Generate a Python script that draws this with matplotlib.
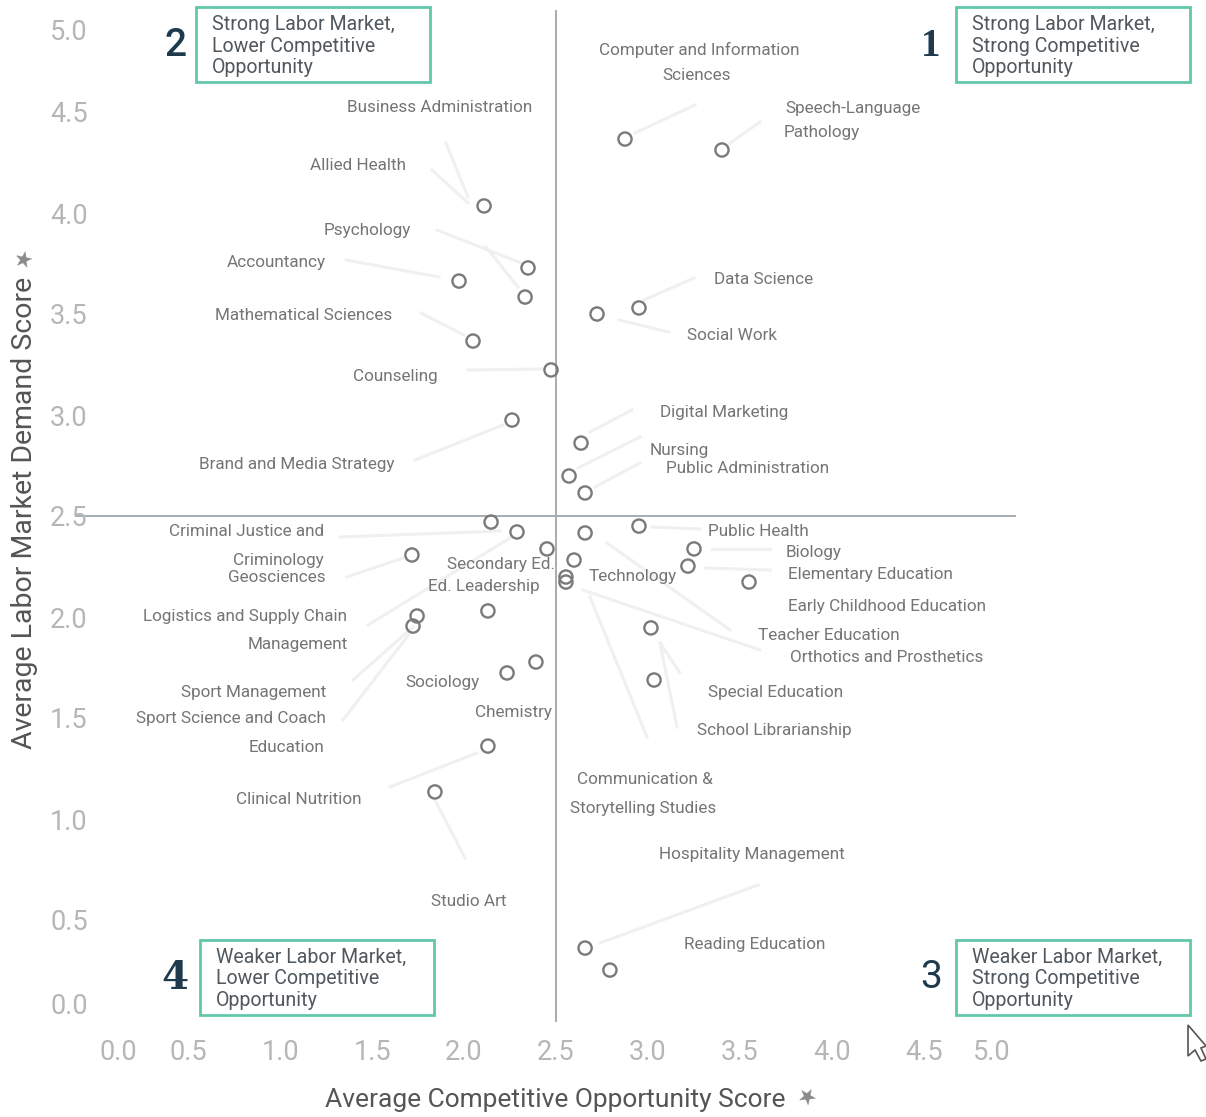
import matplotlib
matplotlib.use("Agg")
import matplotlib.pyplot as plt
from matplotlib.lines import Line2D
from matplotlib.patches import Polygon, Rectangle
from matplotlib.transforms import ScaledTranslation

W, H = 1206, 1117

# data
POINT_X = [2.875, 3.402, 2.109, 2.348, 1.973, 2.332, 2.723, 2.951, 2.049, 2.473,
           2.261, 2.636, 2.571, 2.658, 2.147, 2.288, 2.658, 2.951, 2.451, 2.598,
           1.717, 3.250, 3.217, 3.549, 2.554, 2.554, 1.745, 1.723, 2.130, 3.016,
           3.033, 2.391, 2.234, 2.130, 1.842, 2.658, 2.793]
POINT_Y = [4.366, 4.312, 4.035, 3.728, 3.663, 3.584, 3.500, 3.530, 3.366, 3.223,
           2.975, 2.861, 2.698, 2.614, 2.470, 2.421, 2.416, 2.450, 2.337, 2.282,
           2.307, 2.337, 2.252, 2.173, 2.198, 2.173, 2.005, 1.955, 2.030, 1.946,
           1.688, 1.777, 1.723, 1.361, 1.134, 0.361, 0.252]
TICKS = [0.0, 0.5, 1.0, 1.5, 2.0, 2.5, 3.0, 3.5, 4.0, 4.5, 5.0]
TICK_LABELS = ["0.0", "0.5", "1.0", "1.5", "2.0", "2.5", "3.0", "3.5", "4.0", "4.5", "5.0"]

# text lines of the point labels and where they sit (pixels)
LABEL_TEXT = ["Computer and Information", "Sciences", "Speech-Language", "Pathology",
              "Business Administration", "Allied Health", "Psychology", "Accountancy",
              "Mathematical Sciences", "Counseling", "Data Science", "Social Work",
              "Digital Marketing", "Nursing", "Public Administration",
              "Brand and Media Strategy", "Criminal Justice and", "Criminology",
              "Geosciences", "Secondary Ed.", "Ed. Leadership", "Technology",
              "Public Health", "Biology", "Elementary Education",
              "Early Childhood Education", "Teacher Education",
              "Orthotics and Prosthetics", "Logistics and Supply Chain", "Management",
              "Sport Management", "Sport Science and Coach", "Education", "Sociology",
              "Chemistry", "Special Education", "School Librarianship",
              "Communication &", "Storytelling Studies", "Clinical Nutrition",
              "Hospitality Management", "Studio Art", "Reading Education"]
LABEL_PX = [(699, 50), (697, 75), (853, 108), (822, 133), (440, 108), (358, 166),
            (367, 230), (276, 262), (304, 315), (395, 377), (764, 280), (732, 335),
            (724, 413), (679, 450), (748, 468), (297, 465), (247, 532), (278, 561),
            (277, 578), (501, 564), (484, 587), (633, 576), (758, 532), (814, 552),
            (870, 575), (887, 607), (829, 636), (887, 657), (245, 616), (298, 645),
            (254, 693), (231, 719), (287, 747), (442, 682), (514, 712), (776, 692),
            (774, 731), (645, 779), (643, 808), (299, 799), (752, 854), (469, 902),
            (755, 944)]

# faint leader lines between points and labels (pixels)
LEADERS = [(635, 133, 695, 105), (730, 143, 760, 122), (446, 143, 468, 197),
           (432, 170, 468, 203), (437, 230, 521, 263), (346, 260, 439, 277),
           (421, 313, 464, 335), (468, 370, 543, 369), (486, 247, 518, 287),
           (644, 300, 694, 278), (619, 320, 669, 332), (590, 432, 632, 410),
           (578, 468, 640, 437), (595, 487, 640, 463), (415, 460, 503, 425),
           (340, 537, 500, 531), (347, 577, 403, 558), (368, 625, 510, 538),
           (353, 680, 413, 627), (343, 720, 410, 633), (390, 787, 477, 753),
           (435, 800, 465, 858), (600, 943, 758, 885), (652, 527, 700, 529),
           (712, 549, 770, 549), (705, 568, 770, 570), (607, 543, 730, 630),
           (583, 590, 760, 650), (660, 643, 680, 673), (660, 643, 677, 727),
           (590, 597, 647, 737)]

QUADRANT_TEXT = ["Strong Labor Market,\nStrong Competitive\nOpportunity",
                 "Strong Labor Market,\nLower Competitive\nOpportunity",
                 "Weaker Labor Market,\nStrong Competitive\nOpportunity",
                 "Weaker Labor Market,\nLower Competitive\nOpportunity"]
QUADRANT_NUM = ["1", "2", "3", "4"]
QUADRANT_BOX = [(956, 7), (196, 7), (956, 940), (200, 940)]
NUM_PX = [(931, 46), (175, 46), (931, 978), (175, 978)]
NUM_FONT = ["Liberation Serif", "Roboto", "Roboto", "DejaVu Serif"]
NUM_WEIGHT = ["bold", "medium", "normal", "bold"]

GREY_TEXT = "#757575"
TICK_GREY = "#b6b6b6"
TITLE_GREY = "#555555"
TEAL = "#62c6ab"
NAVY = "#1f3a4d"


def fx(px):
    return px / W


def fy(py):
    return 1 - py / H


def drawChart():
    plt.rcParams["font.family"] = ["Roboto", "DejaVu Sans"]
    fig = plt.figure(figsize=(W / 100, H / 100), dpi=100, facecolor="white")
    ax = fig.add_axes([fx(96), fy(1021), 920 / W, 1010 / H])
    ax.patch.set_visible(False)
    ax.set_xlim(0, 5)
    ax.set_ylim(0, 5)
    for s in ax.spines.values():
        s.set_visible(False)

    ax.axvline(2.5, color="#a4adb1", lw=1.4, zorder=1, clip_on=False)
    ax.hlines(2.5, -0.114, 5, color="#a4adb1", lw=1.4, zorder=1, clip_on=False)
    ax.scatter(POINT_X, POINT_Y, s=90, facecolors="none", edgecolors="#7a7a7a",
               linewidths=1.7, zorder=3)

    ax.set_xticks(TICKS, TICK_LABELS)
    ax.set_yticks(TICKS, TICK_LABELS)
    ax.tick_params(axis="both", length=0, labelsize=19.5, labelcolor=TICK_GREY)
    ax.tick_params(axis="x", pad=13)
    ax.tick_params(axis="y", pad=6)

    # end labels are pushed inside like the original
    xl = ax.get_xticklabels()
    xl[0].set_transform(xl[0].get_transform() + ScaledTranslation(22 / 100, 0, fig.dpi_scale_trans))
    xl[-1].set_transform(xl[-1].get_transform() + ScaledTranslation(-24 / 100, 0, fig.dpi_scale_trans))
    yl = ax.get_yticklabels()
    yl[0].set_transform(yl[0].get_transform() + ScaledTranslation(0, 18 / 100, fig.dpi_scale_trans))
    yl[-1].set_transform(yl[-1].get_transform() + ScaledTranslation(0, -19 / 100, fig.dpi_scale_trans))

    for x0, y0, x1, y1 in LEADERS:
        fig.add_artist(Line2D([fx(x0), fx(x1)], [fy(y0), fy(y1)], color="#f0f0f0",
                              lw=2.2, zorder=-1))

    for t, (px, py) in zip(LABEL_TEXT, LABEL_PX):
        fig.text(fx(px), fy(py), t, ha="center", va="center", fontsize=12.3, color=GREY_TEXT)

    for t, n, (bx, by), (nx, ny), f, w in zip(QUADRANT_TEXT, QUADRANT_NUM, QUADRANT_BOX,
                                              NUM_PX, NUM_FONT, NUM_WEIGHT):
        fig.add_artist(Rectangle((fx(bx), fy(by + 75)), 234 / W, 75 / H, fill=False,
                                 edgecolor=TEAL, lw=2))
        fig.text(fx(bx + 16), fy(by + 39), t, ha="left", va="center", fontsize=14.1,
                 color="#50585e", linespacing=1.14)
        fig.text(fx(nx), fy(ny), n, ha="center", va="center", fontsize=28, color=NAVY,
                 family=f, fontweight=w)

    fig.text(fx(555), fy(1100), "Average Competitive Opportunity Score", ha="center",
             va="center", fontsize=19, color=TITLE_GREY)
    fig.text(fx(805), fy(1099), "\u2605", ha="center", va="center", fontsize=16,
             color="#8a8a8a", rotation=-30, family="DejaVu Sans")
    fig.text(fx(25), fy(513), "Average Labor Market Demand Score", ha="center",
             va="center", fontsize=20.5, color=TITLE_GREY, rotation=90)
    fig.text(fx(25), fy(259), "\u2605", ha="center", va="center", fontsize=16,
             color="#8a8a8a", rotation=60, family="DejaVu Sans")

    # mouse cursor caught in the screenshot
    cursor = [(1188, 1025), (1188, 1056), (1195, 1050), (1201, 1061), (1206, 1059),
              (1201, 1048), (1206, 1046)]
    fig.add_artist(Polygon([(fx(a), fy(b)) for a, b in cursor], closed=True,
                           facecolor="white", edgecolor="#555555", lw=1.2))

    fig.savefig("out.png", dpi=100)


if __name__ == '__main__':
    drawChart()
